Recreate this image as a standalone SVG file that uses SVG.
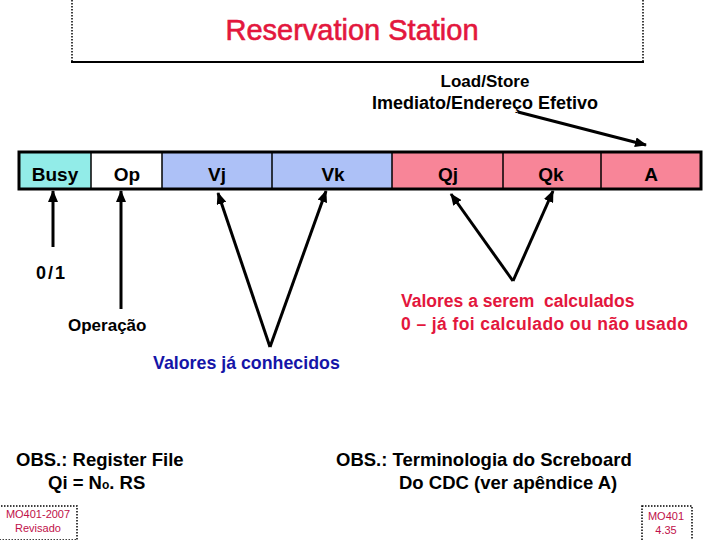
<svg xmlns="http://www.w3.org/2000/svg" width="720" height="540" viewBox="0 0 720 540">
<defs>
<marker id="ah" markerUnits="userSpaceOnUse" markerWidth="12" markerHeight="10" refX="11" refY="5" orient="auto">
<path d="M0,0 L12,5 L0,10 z" fill="#000"/>
</marker>
<style>
.lbl{font-family:"Liberation Sans",Arial,sans-serif;font-weight:bold;fill:#000}
.cell{font-family:"Liberation Sans",Arial,sans-serif;font-weight:bold;font-size:19px;fill:#000;text-anchor:middle}
.red{fill:#e3173d}
.blue{fill:#1515a8}
.conn line{stroke:#000;stroke-width:3;marker-end:url(#ah)}
.dot{stroke:#000;stroke-width:1.5;stroke-dasharray:1.5,1.5;fill:none}
.foot{font-family:"Liberation Sans",Arial,sans-serif;font-size:11px;fill:#c0104a;text-anchor:middle}
</style>
</defs>
<rect width="720" height="540" fill="#fff"/>
<g id="title">
<line class="dot" x1="72" y1="0" x2="72" y2="62"/>
<line class="dot" x1="643" y1="0" x2="643" y2="62"/>
<line x1="71" y1="62" x2="644" y2="62" stroke="#000" stroke-width="2"/>
<text x="352" y="40" font-family="Liberation Sans,Arial,sans-serif" font-size="29" fill="#e3173d" stroke="#e3173d" stroke-width="0.6" text-anchor="middle">Reservation Station</text>
</g>
<g id="loadstore">
<text class="lbl" x="485" y="87" font-size="17" text-anchor="middle">Load/Store</text>
<text class="lbl" x="485" y="109" font-size="18" text-anchor="middle">Imediato/Endereço Efetivo</text>
</g>
<g id="table">
<rect x="19" y="152" width="72" height="37" fill="#92ece8"/>
<rect x="91" y="152" width="71" height="37" fill="#fff"/>
<rect x="162" y="152" width="230" height="37" fill="#adc1f7"/>
<rect x="392" y="152" width="309" height="37" fill="#f88598"/>
<g stroke="#000" stroke-width="1.5">
<line x1="91" y1="152" x2="91" y2="189"/>
<line x1="162" y1="152" x2="162" y2="189"/>
<line x1="272" y1="152" x2="272" y2="189"/>
<line x1="392" y1="152" x2="392" y2="189"/>
<line x1="503" y1="152" x2="503" y2="189"/>
<line x1="601" y1="152" x2="601" y2="189"/>
</g>
<rect x="19" y="152" width="682" height="37" fill="none" stroke="#000" stroke-width="3"/>
<g id="cell-busy"><text class="cell" x="55" y="181">Busy</text></g>
<g id="cell-op"><text class="cell" x="127" y="181">Op</text></g>
<g id="cell-vj"><text class="cell" x="217" y="181">Vj</text></g>
<g id="cell-vk"><text class="cell" x="333" y="181">Vk</text></g>
<g id="cell-qj"><text class="cell" x="448" y="181">Qj</text></g>
<g id="cell-qk"><text class="cell" x="551" y="181">Qk</text></g>
<g id="cell-a"><text class="cell" x="651" y="181">A</text></g>
</g>
<g id="connectors" class="conn">
<line x1="518" y1="112" x2="646" y2="145" stroke-width="2.5"/>
<line x1="53" y1="247" x2="53" y2="191"/>
<line x1="121" y1="309" x2="121" y2="191"/>
<line x1="270" y1="347" x2="218" y2="193"/>
<line x1="270" y1="347" x2="326" y2="191"/>
<line x1="513" y1="281" x2="451" y2="194"/>
<line x1="513" y1="281" x2="553" y2="191"/>
</g>
<g id="label-01"><text class="lbl" x="36" y="279" font-size="18" letter-spacing="2">0/1</text></g>
<g id="label-operacao"><text class="lbl" x="68" y="331" font-size="17">Operação</text></g>
<g id="label-conhecidos"><text class="lbl blue" x="153" y="369" font-size="17.8">Valores já conhecidos</text></g>
<g id="label-calculados">
<text class="lbl red" x="401" y="307" font-size="17.5" xml:space="preserve">Valores a serem  calculados</text>
<text class="lbl red" x="401" y="330" font-size="17.5" letter-spacing="0.4">0 – já foi calculado ou não usado</text>
</g>
<g id="obs-left">
<text class="lbl" x="16" y="466" font-size="18.5">OBS.: Register File</text>
<text class="lbl" x="48" y="489" font-size="18.5">Qi = N<tspan font-size="12">o</tspan>. RS</text>
</g>
<g id="obs-right">
<text class="lbl" x="336" y="466" font-size="18.5">OBS.: Terminologia do Screboard</text>
<text class="lbl" x="399" y="489" font-size="18.5">Do CDC (ver apêndice A)</text>
</g>
<g id="footer-left">
<rect class="dot" x="-2" y="506" width="79" height="34" stroke="#888"/>
<text class="foot" x="38" y="518">MO401-2007</text>
<text class="foot" x="38" y="532">Revisado</text>
</g>
<g id="footer-right">
<rect class="dot" x="642" y="506" width="50" height="36" stroke="#888"/>
<text class="foot" x="666" y="520">MO401</text>
<text class="foot" x="666" y="534">4.35</text>
</g>
</svg>
